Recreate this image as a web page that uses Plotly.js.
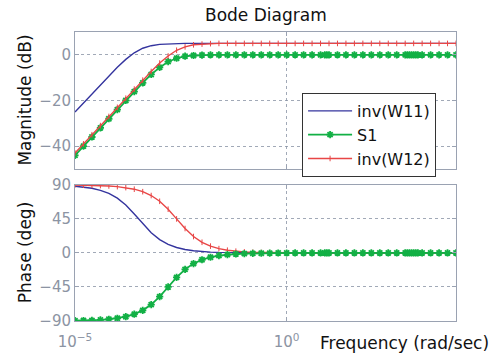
<!DOCTYPE html>
<html><head><meta charset="utf-8">
<script src="https://cdn.plot.ly/plotly-3.0.1.min.js"></script>
<style>html,body{margin:0;padding:0;background:#fff}#plot{width:502px;height:358px}</style>
</head><body><div id="plot"></div>
<script>
// frequency grid (rad/sec)
const freq = [1e-5,1.585e-5,2.512e-5,3.981e-5,6.310e-5,1e-4,1.585e-4,2.512e-4,3.981e-4,6.310e-4,
  1e-3,1.585e-3,2.512e-3,3.981e-3,6.310e-3,1e-2,1.585e-2,2.512e-2,3.981e-2,6.310e-2,
  0.1,0.1585,0.2512,0.3981,0.6310,1,1.585,2.512,3.981,6.310,
  10,15.85,25.12,39.81,63.10,100,158.5,251.2,398.1,631.0,
  1000,1585,2512,3981,6310,10000];
const freqS1 = [1e-5,1.585e-5,2.512e-5,3.981e-5,6.310e-5,1e-4,1.585e-4,2.512e-4,3.981e-4,6.310e-4,
  1e-3,1.585e-3,2.512e-3,3.981e-3,6.310e-3,1e-2,1.585e-2,2.512e-2,3.981e-2,6.310e-2,
  0.1,0.1585,0.2512,0.3981,0.6310,1,1.585,2.512,3.981,6.310,7.943,8.913,
  10,15.85,25.12,39.81,63.10,100,158.5,251.2,398.1,631.0,707.9,794.3,891.3,
  1000,1122,1259,1585,2512,3981,6310,10000];

const magW11 = [-25.0,-21.0,-17.0,-13.1,-9.2,-5.4,-2.0,0.9,2.9,4.0,4.6,4.8,4.9,5.0,5.0,5.0,
  5,5,5,5,5,5,5,5,5,5,5,5,5,5,5,5,5,5,5,5,5,5,5,5,5,5,5,5,5,5];
const phW11 = [88.2,87.1,85.5,82.8,78.7,72.5,63.4,51.6,38.5,26.6,17.6,11.3,7.2,4.5,2.9,1.8,
  1.1,0.7,0.5,0.3,0.2,0.1,0.1,0,0,0,
  0,0,0,0,0,0,0,0,0,0,0,0,0,0,0,0,0,0,0,0];

const magW12 = [-43.0,-39.0,-35.0,-31.0,-27.0,-23.0,-19.0,-15.0,-11.1,-7.3,-3.6,-0.5,2.0,3.5,4.4,4.7,
  4.9,5.0,5.0,5.0,5.0,5,5,5,5,5,5,5,5,5,5,5,5,5,5,5,5,5,5,5,5,5,5,5,5,5];
const phW12 = [89.8,89.6,89.4,89.1,88.6,87.7,86.4,84.3,81.0,75.9,68.3,57.8,45.0,32.3,21.7,14.1,
  9.0,5.7,3.6,2.3,1.4,0.9,0.6,0.4,0.2,0.1,0.1,
  0,0,0,0,0,0,0,0,0,0,0,0,0,0,0,0,0,0,0];

const magS1 = [-44.0,-40.0,-36.0,-32.0,-28.0,-24.0,-20.0,-16.1,-12.3,-8.6,-5.5,-3.0,-1.5,-0.6,-0.3,-0.1,
  0,0,0,0,0,0,0,0,0,0,0,0,0,0,0,0,0,0,0,0,0,0,0,0,0,0,0,0,0,0,0,0,0,0,0,0,0];
const phS1 = [-89.6,-89.4,-89.1,-88.6,-87.7,-86.4,-84.3,-81.0,-75.9,-68.3,-57.8,-45.0,-32.3,-21.7,-14.1,-9.0,
  -5.7,-3.6,-2.3,-1.4,-0.9,-0.6,-0.4,-0.2,-0.1,-0.1,
  0,0,0,0,0,0,0,0,0,0,0,0,0,0,0,0,0,0,0,0,0,0,0,0,0,0,0];

const names = ['inv(W11)','S1','inv(W12)'];
const xTickVals = [1e-5, 1];
const xTickText = ['10<sup>−5</sup>','10<sup>0</sup>'];
const magTicks = [-40,-20,0];
const phTicks = [-90,-45,0,45,90];

const cBlue = '#34349e', cGreen = '#12b045', cRed = '#e84646';
const FONT = 'DejaVu Sans, sans-serif';
const axGray = '#9aa2b2', tickGray = '#8c94a3';

const greenMarker = {symbol:'asterisk-open', size:6, color:cGreen, line:{color:cGreen, width:1.8}};
const redMarker = {symbol:'line-ns-open', size:4, color:cRed, line:{color:cRed, width:1}};

const traces = [
  {x: freq, y: magW11, name: names[0], mode: 'lines', line:{color:cBlue, width:1.4}, xaxis:'x', yaxis:'y'},
  {x: freqS1, y: magS1, name: names[1], mode: 'lines+markers', line:{color:cGreen, width:1.8},
   marker:greenMarker, xaxis:'x', yaxis:'y'},
  {x: freq, y: magW12, name: names[2], mode: 'lines+markers', line:{color:cRed, width:1.4},
   marker:redMarker, xaxis:'x', yaxis:'y'},
  {x: freq, y: phW11, name: names[0], mode: 'lines', line:{color:cBlue, width:1.4}, xaxis:'x2', yaxis:'y2', showlegend:false},
  {x: freq, y: phW12, name: names[2], mode: 'lines+markers', line:{color:cRed, width:1.4},
   marker:redMarker, xaxis:'x2', yaxis:'y2', showlegend:false},
  {x: freqS1, y: phS1, name: names[1], mode: 'lines+markers', line:{color:cGreen, width:1.8},
   marker:greenMarker, xaxis:'x2', yaxis:'y2', showlegend:false}
];

const axCommon = {showline:true, linecolor:axGray, linewidth:1, mirror:'ticks', ticks:'inside', ticklen:4, tickcolor:axGray,
  gridcolor:'#8a93a5', griddash:'3px,3px', gridwidth:0.8, zeroline:false, tickfont:{family:FONT, size:15, color:tickGray}};

const layout = {
  width:502, height:358, paper_bgcolor:'#fff', plot_bgcolor:'#fff',
  margin:{l:75, r:46, t:32, b:37},
  font:{family:FONT, color:'#000'},
  showlegend:true,
  legend:{x:0.596, y:0.789, xanchor:'left', yanchor:'top', bgcolor:'#fff', bordercolor:'#333', borderwidth:1,
    font:{family:FONT, size:16, color:'#111'}, tracegroupgap:0, itemwidth:44},
  xaxis:Object.assign({}, axCommon, {type:'log', range:[-5,4], tickvals:xTickVals, ticktext:xTickText, showticklabels:false, anchor:'y', domain:[0,1]}),
  yaxis:Object.assign({}, axCommon, {range:[-50,10], tickvals:magTicks, domain:[0.526,1], anchor:'x'}),
  xaxis2:Object.assign({}, axCommon, {type:'log', range:[-5,4], tickvals:xTickVals, ticktext:xTickText, anchor:'y2', matches:'x', ticklabelstandoff:7}),
  yaxis2:Object.assign({}, axCommon, {range:[-90,90], tickvals:phTicks, domain:[0,0.471], anchor:'x2'}),
  annotations:[
    {text:'Bode Diagram', xref:'paper', yref:'paper', x:0.5, y:1, yshift:17, xanchor:'center', yanchor:'middle', showarrow:false, font:{family:FONT, size:17, color:'#111'}},
    {text:'Magnitude (dB)', xref:'paper', yref:'paper', x:-0.131, y:0.763, textangle:-90, xanchor:'center', yanchor:'middle', showarrow:false, font:{family:FONT, size:17, color:'#111'}},
    {text:'Phase (deg)', xref:'paper', yref:'paper', x:-0.131, y:0.235, textangle:-90, xanchor:'center', yanchor:'middle', showarrow:false, font:{family:FONT, size:17, color:'#111'}},
    {text:'Frequency (rad/sec)', xref:'paper', yref:'paper', x:0.865, y:0, yshift:-22, xanchor:'center', yanchor:'middle', showarrow:false, font:{family:FONT, size:17, color:'#111'}}
  ]
};
Plotly.newPlot('plot', traces, layout, {staticPlot:true, displayModeBar:false});
</script></body></html>
